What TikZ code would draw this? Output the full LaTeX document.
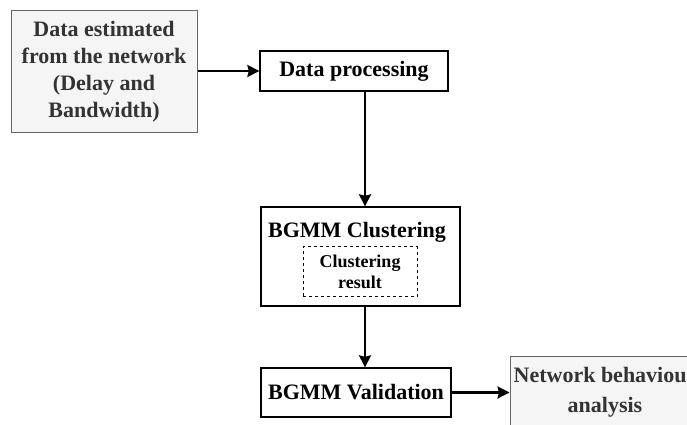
\documentclass[tikz,border=0pt]{standalone}
\usepackage{fontspec}
\setmainfont{Liberation Serif}
\usetikzlibrary{arrows.meta,calc}
\definecolor{boxgray}{HTML}{F5F5F5}
\definecolor{bordergray}{HTML}{666666}
\definecolor{textgray}{HTML}{333333}
\begin{document}
\begin{tikzpicture}[x=1pt,y=1pt,
  graybox/.style={draw=bordergray,fill=boxgray,line width=1pt,text=textgray,
    font=\fontsize{22}{27}\selectfont\bfseries,align=center,inner sep=0pt},
  whitebox/.style={draw=black,fill=white,line width=1.3pt,text=black,
    font=\fontsize{22}{27}\selectfont\bfseries,align=center,inner sep=0pt},
  innerbox/.style={draw=black,dashed,line width=1pt,
    font=\fontsize{18}{21}\selectfont\bfseries,align=center,inner sep=0pt},
  conn/.style={line width=2.3pt,-{Stealth[length=12pt,width=12pt,inset=1.5pt]}}]
\useasboundingbox (0,0) rectangle (687,425);
\clip (0,0) rectangle (687,425);
\node[graybox,minimum width=186,minimum height=122] (src) at (104,353)
  {Data estimated\\from the network\\(Delay and\\Bandwidth)};
\node[whitebox,minimum width=188,minimum height=40] (dp) at (354,354) {Data processing};
\node[whitebox,minimum width=199,minimum height=99] (clust) at (360.5,168.5) {};
\node[font=\fontsize{22}{27}\selectfont\bfseries,anchor=base] (cltitle) at (357,187) {BGMM Clustering};
\node[innerbox,minimum width=114,minimum height=50] (res) at (360,153) {Clustering\\result};
\node[whitebox,minimum width=190,minimum height=49] (val) at (356,32.5) {BGMM Validation};
\node[graybox,minimum width=190,minimum height=80] (net) at (605,28) {};
\node[text=textgray,font=\fontsize{22}{30}\selectfont\bfseries,align=center,anchor=base] (nettext) at (605,12) {Network behaviour\\analysis};
\coordinate (vx) at (365,0);
\draw[conn] (src.east |- dp.west) -- (dp.west);
\draw[conn] (dp.south -| vx) -- (clust.north -| vx);
\draw[conn] (clust.south -| vx) -- (val.north -| vx);
\draw[conn] (val.east) -- (val.east -| net.west);
\end{tikzpicture}
\end{document}
